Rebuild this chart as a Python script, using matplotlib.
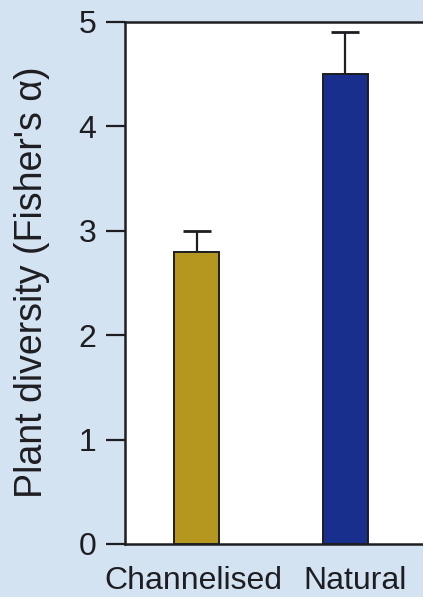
import matplotlib
matplotlib.use("Agg")
import matplotlib.pyplot as plt
from matplotlib.transforms import ScaledTranslation

plt.rcParams['font.family'] = ['Liberation Sans', 'DejaVu Sans']

categories = ["Channelised", "Natural"]
means = [2.8, 4.5]
upper_err = [0.2, 0.4]
bar_colors = ["#b5961f", "#182f8e"]
y_ticks = [0, 1, 2, 3, 4, 5]

bg = "#d3e3f1"
ink = "#1e1e22"

fig = plt.figure(figsize=(4.23, 5.97), dpi=100, facecolor=bg)
ax = fig.add_axes([0.2955, 0.0888, 0.754, 0.8744])
ax.set_facecolor("white")

x = list(range(len(categories)))
ax.bar(x, means, width=0.30, color=bar_colors, edgecolor=ink, linewidth=1.4, zorder=3)
ax.errorbar(x, means, yerr=[[0, 0], upper_err], fmt="none", ecolor=ink,
            elinewidth=1.6, capsize=10, capthick=2, zorder=2)

ax.set_xlim(-0.48, 1.661)
ax.set_ylim(0, 5)
ax.set_yticks(y_ticks)
ax.set_xticks(x)
ax.set_xticklabels(categories)

for side in ["left", "bottom", "top", "right"]:
    ax.spines[side].set_linewidth(1.8)
    ax.spines[side].set_color(ink)

ax.tick_params(axis="y", length=13.5, width=1.6, pad=7, labelsize=23, colors=ink)
ax.tick_params(axis="x", length=0, pad=16, labelsize=23, colors=ink)

# nudge category labels apart slightly
for lbl, dx in zip(ax.get_xticklabels(), [-3, 10]):
    lbl.set_transform(lbl.get_transform() + ScaledTranslation(dx / 100, 0, fig.dpi_scale_trans))

ax.set_ylabel("Plant diversity (Fisher's α)", fontsize=27, color=ink)
ax.yaxis.set_label_coords(-0.235, 0.502)

fig.savefig("out.png", dpi=100, facecolor=bg)
